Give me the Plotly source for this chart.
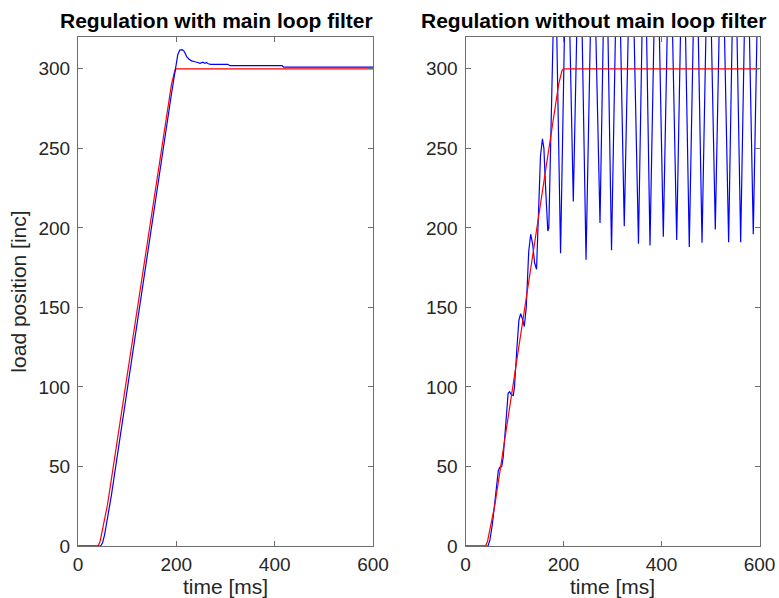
import plotly.graph_objects as go

# reference trajectory, same for both runs
t_ref = [0, 41, 45, 50, 55, 60, 190, 194, 197, 200, 600]
pos_ref = [0, 0, 3, 10, 17, 26, 290, 296, 299, 300, 300]

# measured load position, with main loop filter
t_filt = [0, 46, 50, 54, 58, 63, 68, 190, 195, 199, 203, 207, 212, 216, 221, 226,
          231, 236, 241, 245, 248, 251, 254, 258, 261, 265, 270, 305, 309, 415, 418, 600]
pos_filt = [0, 0, 2, 7, 14, 23, 32, 284, 294, 303, 309, 311.8, 312, 311, 307.7, 306,
            305, 304.6, 304.4, 303.8, 303.4, 303.6, 304.2, 303.4, 304, 303.2, 302.8, 302.8, 302, 302, 301, 301]

# measured load position, without main loop filter
t_raw = [0, 46, 50, 55, 60, 64, 67, 70, 74, 77, 82, 87, 90, 94, 97.5, 100, 105, 109, 112.5,
         116, 120, 124, 129, 133, 137, 141, 145, 149, 153, 157, 160, 163, 166, 168, 170, 176,
         183, 194, 207, 220, 233, 246, 260, 274.5, 286, 298, 311, 324, 338, 353, 365, 376.5,
         390, 403.7, 417, 431, 444, 456.7, 470, 482.7, 496, 509.8, 523, 537, 549, 561.6,
         574, 587.3, 600]
pos_raw = [0, 0, 4, 14, 28, 40, 47.5, 49.5, 50, 56, 78, 96, 97, 95, 94.7, 100, 125, 142, 146,
           143, 138, 150, 185, 196, 190, 178, 174, 205, 245, 256, 250, 228, 204, 198, 200, 290,
           380, 184, 410, 216.6, 412, 180, 406, 203, 410, 186, 408, 201, 412, 190, 409, 189,
           411, 194.5, 408, 192.4, 410, 188, 409, 190.7, 411, 199, 408, 191, 410, 191,
           409, 196, 410]

x_ticks = [0, 200, 400, 600]
y_ticks = [0, 50, 100, 150, 200, 250, 300]
titles = ["Regulation with main loop filter", "Regulation without main loop filter"]

W, H = 779, 598
FONT = "Liberation Sans, Arial, Helvetica, sans-serif"

fig = go.Figure()
fig.add_trace(go.Scatter(x=t_ref, y=pos_ref, mode="lines", line=dict(color="#ff0000", width=1.2),
                         xaxis="x", yaxis="y"))
fig.add_trace(go.Scatter(x=t_filt, y=pos_filt, mode="lines", line=dict(color="#0000ff", width=1.2),
                         xaxis="x", yaxis="y"))
fig.add_trace(go.Scatter(x=t_raw, y=pos_raw, mode="lines", line=dict(color="#0000ff", width=1.2),
                         xaxis="x2", yaxis="y2"))
fig.add_trace(go.Scatter(x=t_ref, y=pos_ref, mode="lines", line=dict(color="#ff0000", width=1.2),
                         xaxis="x2", yaxis="y2"))

axis_style = dict(showline=True, linecolor="#6e6e6e", linewidth=1, mirror="ticks",
                  ticks="inside", ticklen=5, tickcolor="#6e6e6e", showgrid=False,
                  zeroline=False, automargin=False,
                  tickfont=dict(family=FONT, size=19, color="#262626"))
title_font = dict(family=FONT, size=21, color="#262626")

ydom = [1 - 546 / H, 1 - 37 / H]
fig.update_layout(
    width=W, height=H,
    margin=dict(l=0, r=0, t=0, b=0),
    paper_bgcolor="white", plot_bgcolor="white",
    showlegend=False,
    xaxis=dict(axis_style, domain=[78 / W, 373 / W], range=[0, 600], tickvals=x_ticks,
               anchor="y", title=dict(text="time [ms]", font=title_font, standoff=2),
               ticklabelstandoff=1),
    yaxis=dict(axis_style, domain=ydom, range=[0, 320], tickvals=y_ticks, anchor="x",
               title=dict(text="load position [inc]", font=title_font, standoff=6),
               ticklabelstandoff=3),
    xaxis2=dict(axis_style, domain=[465.5 / W, 759.5 / W], range=[0, 600], tickvals=x_ticks,
                anchor="y2", title=dict(text="time [ms]", font=title_font, standoff=2),
                ticklabelstandoff=1),
    yaxis2=dict(axis_style, domain=ydom, range=[0, 320], tickvals=y_ticks, anchor="x2",
                ticklabelstandoff=3),
)

for cx, txt in zip([216, 593], titles):
    fig.add_annotation(text="<b>" + txt + "</b>", x=cx / W, y=1 - 21 / H, xref="paper", yref="paper",
                       xanchor="center", yanchor="middle", showarrow=False,
                       font=dict(family=FONT, size=21, color="#000000"))

# drop the browser's default 8px body margin so the figure sits at the page corner
fig.write_html("out.html", config={"displayModeBar": False},
               post_script="document.body.style.margin = '0';")
